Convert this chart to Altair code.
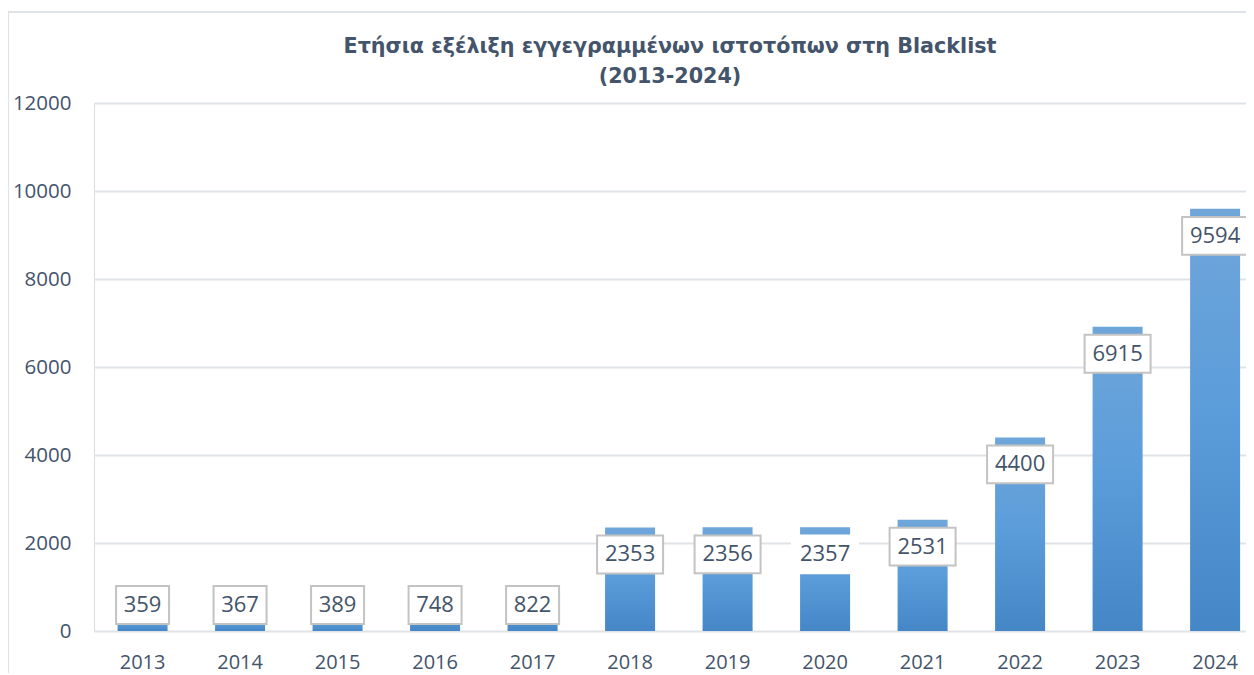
import altair as alt
import pandas as pd

years = ["2013", "2014", "2015", "2016", "2017", "2018",
         "2019", "2020", "2021", "2022", "2023", "2024"]
counts = [359, 367, 389, 748, 822, 2353, 2356, 2357, 2531, 4400, 6915, 9594]
y_ticks = [0, 2000, 4000, 6000, 8000, 10000, 12000]
no_border_year = "2020"

title_lines = ["Ετήσια εξέλιξη εγγεγραμμένων ιστοτόπων στη Blacklist", "(2013-2024)"]

df = pd.DataFrame({"year": years, "count": counts})

TXT = "#44546A"
GRID = "#DFE3E8"
FONT = "Open Sans"

x_enc = alt.X("year:N", sort=years,
              scale=alt.Scale(paddingInner=0.487, paddingOuter=0.151, align=0.8),
              axis=alt.Axis(title=None, labelAngle=0, domain=False, ticks=False,
                            labelPadding=21, labelFontSize=20, labelColor=TXT,
                            labelFont=FONT, grid=False))
y_scale = alt.Scale(domain=[0, 12000], nice=False)

base = alt.Chart(df).transform_calculate(
    pos="max(datum.count - 614, 590)",
).transform_calculate(
    lo="datum.pos - 430",
    hi="datum.pos + 430",
    digits="length(toString(datum.count))",
)

bars = base.mark_bar(
    color=alt.Gradient(
        gradient="linear",
        stops=[alt.GradientStop(color="#6FA6DA", offset=0),
               alt.GradientStop(color="#5A9CDA", offset=0.5),
               alt.GradientStop(color="#4587C6", offset=1)],
        x1=0, x2=0, y1=0, y2=1,
    )
).encode(
    x=x_enc,
    y=alt.Y("count:Q", scale=y_scale,
            axis=alt.Axis(values=y_ticks, format="d", title=None, domain=False,
                          ticks=False, labelPadding=23, labelFontSize=20.5,
                          labelColor=TXT, labelFont=FONT, gridColor=GRID,
                          gridWidth=2)),
)

stroke_cond = alt.condition(f"datum.year == '{no_border_year}'",
                            alt.value("white"), alt.value("#C3C3C3"))

box3 = base.transform_filter("datum.digits == 3").mark_bar(
    width=53, fill="white", strokeWidth=2
).encode(x=alt.X("year:N", sort=years), y=alt.Y("lo:Q", scale=y_scale), y2="hi:Q",
         stroke=stroke_cond)

box4 = base.transform_filter("datum.digits == 4").mark_bar(
    width=66, fill="white", strokeWidth=2
).encode(x=alt.X("year:N", sort=years), y=alt.Y("lo:Q", scale=y_scale), y2="hi:Q",
         stroke=stroke_cond)

labels = base.mark_text(fontSize=22, font=FONT, color=TXT, baseline="middle",
                        align="center").encode(
    x=alt.X("year:N", sort=years),
    y=alt.Y("pos:Q", scale=y_scale),
    text=alt.Text("count:Q", format="d"),
)

frame_df = pd.DataFrame({"k": [0]})
left_border = alt.Chart(frame_df).mark_rule(color=GRID, strokeWidth=2).encode(
    x=alt.value(-86), y=alt.value(-91), y2=alt.value(600))
top_border = alt.Chart(frame_df).mark_rule(color=GRID, strokeWidth=2).encode(
    x=alt.value(-86), x2=alt.value(1160), y=alt.value(-91))

chart = alt.layer(bars, box3, box4, labels, left_border, top_border).properties(
    width=1152, height=528,
    title=alt.TitleParams(text=title_lines, fontSize=20.7, font="DejaVu Sans",
                          fontWeight="bold", color=TXT, lineHeight=30,
                          anchor="middle", offset=-77),
    autosize=alt.AutoSizeParams(type="none"),
    padding={"left": 86, "top": 95, "right": 0, "bottom": 42},
).configure_view(stroke=None).configure(background="white")

chart.save("out.html", embed_options={"renderer": "svg", "actions": False})
